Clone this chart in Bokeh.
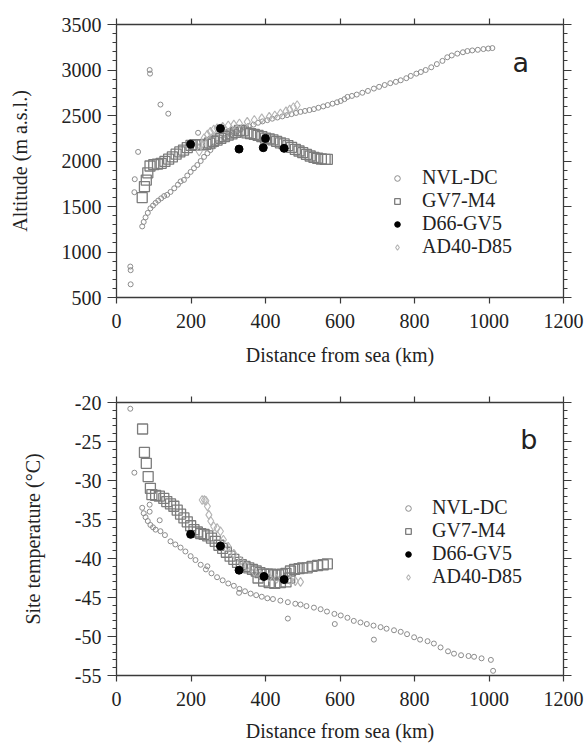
from bokeh.plotting import figure
from bokeh.models import (Range1d, LinearAxis, FixedTicker, SingleIntervalTicker,
                          Legend, LegendItem, Label, CustomJSTickFormatter)
from bokeh.layouts import column
from bokeh.embed import file_html
from bokeh.resources import INLINE

# ---------------- data: panel a (altitude) ----------------
nvl_a_d = [69, 73, 78, 84, 91, 98, 105, 112, 120, 128, 136, 145, 155, 165, 172, 181, 190, 199,
           208, 217, 226, 235, 244, 252, 261, 270, 280, 290, 297, 306, 315, 324, 333, 342, 355,
           368, 380, 392, 405, 418, 432, 445, 458, 470, 482, 494, 506, 518, 530, 542, 555, 567,
           580, 592, 602, 612, 620, 632, 645, 660, 675, 691, 705, 720, 735, 750, 763, 778, 790,
           805, 817, 830, 845, 860, 875, 888, 900, 915, 930, 942, 955, 970, 985, 998, 1009,
           37, 38, 38, 48, 49, 58, 89, 90, 118, 139, 219]
nvl_a_alt = [1281, 1330, 1380, 1430, 1480, 1510, 1540, 1565, 1590, 1615, 1628, 1660, 1700, 1740,
             1775, 1792, 1840, 1880, 1920, 1956, 2000, 2045, 2085, 2120, 2160, 2195, 2230, 2255,
             2266, 2290, 2305, 2325, 2345, 2370, 2385, 2400, 2420, 2435, 2449, 2465, 2478, 2490,
             2504, 2515, 2528, 2540, 2550, 2560, 2570, 2585, 2600, 2615, 2630, 2645, 2660, 2680,
             2704, 2715, 2730, 2750, 2770, 2796, 2815, 2835, 2855, 2870, 2887, 2910, 2935, 2960,
             2978, 3000, 3030, 3065, 3100, 3140, 3160, 3180, 3195, 3208, 3215, 3222, 3230, 3236,
             3241,
             840, 800, 645, 1657, 1800, 2100, 3000, 2960, 2620, 2520, 2310]

gv7_a_d = [69, 75, 80, 84, 90, 100, 110, 120, 130, 140, 150, 160, 170, 180, 190, 200, 210, 220,
           230, 240, 250, 260, 270, 280, 290, 300, 310, 320, 330, 340, 350, 360, 370, 380, 390,
           400, 410, 420, 430, 440, 450, 460, 470, 480, 490, 500, 510, 520, 530, 540, 550, 560, 566]
gv7_a_alt = [1598, 1719, 1790, 1870, 1945, 1960, 1965, 1975, 1995, 2020, 2045, 2075, 2100, 2120,
             2148, 2172, 2180, 2180, 2177, 2182, 2198, 2215, 2230, 2250, 2268, 2285, 2298, 2315,
             2335, 2330, 2310, 2300, 2292, 2282, 2268, 2252, 2243, 2233, 2215, 2200, 2188, 2170,
             2150, 2128, 2110, 2092, 2072, 2055, 2040, 2030, 2022, 2018, 2018]

d66_a_d = [199, 279, 329, 394, 400, 450]
d66_a_alt = [2183, 2358, 2131, 2146, 2248, 2139]

ad40_a_d = [222, 228, 235, 244, 252, 261, 270, 285, 300, 315, 330, 351, 370, 390, 410, 425, 440,
            455, 465, 475, 485]
ad40_a_alt = [2105, 2180, 2250, 2290, 2320, 2345, 2360, 2375, 2390, 2400, 2412, 2430, 2450, 2468,
              2485, 2500, 2522, 2545, 2565, 2590, 2613]

# ---------------- data: panel b (site temperature) ----------------
nvl_b_d = [69, 73, 78, 84, 91, 98, 105, 118, 130, 145, 158, 172, 185, 199, 212, 226, 240, 255,
           270, 285, 300, 315, 330, 345, 360, 375, 390, 405, 420, 440, 460, 480, 494, 510, 530,
           548, 565, 585, 602, 620, 637, 655, 672, 690, 709, 725, 745, 763, 780, 799, 815, 835,
           852, 870, 890, 906, 925, 945, 960, 980, 1005,
           37, 48, 89, 89, 116, 244, 329, 460, 586, 691, 1011]
nvl_b_t = [-33.5, -34.2, -34.7, -35.2, -35.7, -36.0, -36.3, -36.5, -37.0, -37.8, -38.2, -38.6,
           -39.1, -39.7, -40.2, -40.8, -41.4, -41.9, -42.4, -42.8, -43.2, -43.5, -43.9, -44.2,
           -44.5, -44.7, -44.9, -45.1, -45.2, -45.4, -45.6, -45.8, -45.9, -46.1, -46.3, -46.5,
           -46.8, -47.1, -47.3, -47.6, -48.0, -48.2, -48.4, -48.6, -48.8, -49.0, -49.2, -49.4,
           -49.7, -50.1, -50.4, -50.6, -50.9, -51.4, -51.9, -52.2, -52.4, -52.5, -52.6, -52.8,
           -53.0,
           -20.8, -29.0, -33.1, -34.0, -35.1, -41.0, -44.4, -47.7, -48.4, -50.4, -54.4]

gv7_b_d = [70, 75, 80, 85, 91, 95, 105, 115, 127, 135, 145, 154, 163, 172, 181, 190, 199, 208,
           217, 226, 235, 245, 255, 265, 275, 285, 295, 305, 315, 325, 335, 345, 355, 365, 375,
           385, 395, 405, 415, 425, 435, 445, 455, 467, 478, 490, 500, 512, 525, 540, 555, 566,
           380, 395, 410, 425, 440, 455, 465]
gv7_b_t = [-23.4, -26.4, -27.8, -29.5, -31.0, -31.8, -31.9, -32.0, -32.3, -32.7, -33.0, -33.3,
           -33.8, -34.3, -34.8, -35.3, -35.8, -36.3, -36.6, -36.8, -36.9, -37.1, -37.4, -37.8,
           -38.3, -38.7, -39.2, -39.7, -40.1, -40.5, -40.8, -41.0, -41.2, -41.4, -41.6, -41.8,
           -42.0, -42.0, -42.0, -42.1, -42.1, -42.0, -41.9, -41.6, -41.4, -41.3, -41.2, -41.2,
           -41.0, -40.9, -40.8, -40.7,
           -42.5, -42.9, -43.1, -43.2, -43.1, -43.0, -42.5]

d66_b_d = [199, 279, 329, 396, 450]
d66_b_t = [-36.9, -38.4, -41.5, -42.3, -42.7]

ad40_b_d = [230, 236, 240, 244, 248, 253, 261, 270, 279, 287, 300, 315, 333, 350, 370, 390, 410,
            430, 450, 467, 480, 494]
ad40_b_t = [-32.5, -32.5, -32.6, -33.3, -34.4, -35.2, -35.9, -36.1, -36.5, -37.6, -38.5, -39.4,
            -40.3, -41.0, -41.7, -42.2, -42.4, -42.6, -42.7, -42.8, -42.9, -43.0]

x_ticks = [0, 200, 400, 600, 800, 1000, 1200]
series_names = ["NVL-DC", "GV7-M4", "D66-GV5", "AD40-D85"]

SERIF = "Liberation Serif"
AX = "#3a3a3a"


def style_axis(ax, show_labels=True, tick_out=9, minor_out=4):
    ax.axis_line_color = AX
    ax.axis_line_width = 1.3
    ax.major_tick_line_color = AX
    ax.minor_tick_line_color = AX
    ax.major_tick_line_width = 1.2
    ax.major_tick_in = 0
    ax.major_tick_out = tick_out
    ax.minor_tick_in = 0
    ax.minor_tick_out = minor_out
    ax.major_label_text_font = SERIF
    ax.major_label_text_color = "#222222"
    ax.axis_label_text_font = SERIF
    ax.axis_label_text_font_style = "normal"
    ax.axis_label_text_color = "#222222"
    ax.major_label_text_font_size = "20px"
    ax.axis_label_text_font_size = "20px"
    if show_labels:
        ax.formatter = CustomJSTickFormatter(code="return String(tick);")
    else:
        ax.formatter = CustomJSTickFormatter(code="return '';")
        ax.major_label_standoff = 0


def make_panel(height, top, bottom, ylo, yhi, yint, ylabel, data, legend_loc, letter, letter_xy,
               xlabel_standoff, legend_standoff):
    p = figure(width=585, height=height, output_backend="svg", toolbar_location=None,
               x_range=Range1d(0, 1200), y_range=Range1d(ylo, yhi),
               min_border_left=116, min_border_right=22, min_border_top=top,
               min_border_bottom=bottom, x_axis_location=None, y_axis_location=None)
    p.outline_line_color = None
    p.grid.visible = False
    p.background_fill_color = "white"
    p.border_fill_color = "white"

    xt = FixedTicker(ticks=x_ticks, minor_ticks=[])
    yt = SingleIntervalTicker(interval=yint, num_minor_ticks=5)

    xb = LinearAxis(ticker=xt, axis_label="Distance from sea (km)")
    style_axis(xb, True, tick_out=6, minor_out=0)
    xb.major_label_standoff = 10
    xb.axis_label_standoff = xlabel_standoff
    p.add_layout(xb, "below")
    xa = LinearAxis(ticker=xt)
    style_axis(xa, False, tick_out=6, minor_out=0)
    p.add_layout(xa, "above")

    yl = LinearAxis(ticker=yt, axis_label=ylabel)
    style_axis(yl, True, tick_out=9, minor_out=4)
    yl.major_label_standoff = 6
    yl.axis_label_standoff = 28
    p.add_layout(yl, "left")
    yr = LinearAxis(ticker=yt)
    style_axis(yr, False, tick_out=8, minor_out=4)
    p.add_layout(yr, "right")

    (nd, nv), (gd, gv), (dd, dv), (ad, av) = data
    r_nvl = p.scatter(nd, nv, marker="circle", size=5, fill_color=None,
                      line_color="#8c8c8c", line_width=1)
    r_gv7 = p.scatter(gd, gv, marker="square", size=10, fill_color=None,
                      line_color="#7c7c7c", line_width=1.3)
    r_ad = p.scatter(ad, av, marker="diamond", size=9, fill_color=None,
                     line_color="#b4b4b4", line_width=1.1)
    r_d66 = p.scatter(dd, dv, marker="circle", size=8, fill_color="black",
                      line_color="black")

    items = [LegendItem(label=series_names[0], renderers=[r_nvl]),
             LegendItem(label=series_names[1], renderers=[r_gv7]),
             LegendItem(label=series_names[2], renderers=[r_d66]),
             LegendItem(label=series_names[3], renderers=[r_ad])]
    leg = Legend(items=items, location=legend_loc, orientation="vertical",
                 glyph_width=14, glyph_height=14, label_height=20, spacing=0,
                 padding=0, margin=0, label_standoff=legend_standoff,
                 label_text_font=SERIF, label_text_font_size="20px",
                 label_text_color="#222222",
                 border_line_color=None, background_fill_alpha=0)
    p.add_layout(leg, "center")

    p.add_layout(Label(x=letter_xy[0], y=letter_xy[1], text=letter,
                       text_font="DejaVu Sans", text_font_size="27px",
                       text_color="#222222", text_align="center",
                       text_baseline="middle"))
    return p


pa = make_panel(368, 24, 70, 500, 3500, 500, "Altitude (m a.s.l.)",
                [(nvl_a_d, nvl_a_alt), (gv7_a_d, gv7_a_alt), (d66_a_d, d66_a_alt),
                 (ad40_a_d, ad40_a_alt)],
                (274, 39), "a", (1085, 3084), 13, 18)

pb = make_panel(376, 34, 67, -55, -20, 5, "Site temperature (°C)",
                [(nvl_b_d, nvl_b_t), (gv7_b_d, gv7_b_t), (d66_b_d, d66_b_t),
                 (ad40_b_d, ad40_b_t)],
                (285, 87), "b", (1107, -24.8), 11, 17)

layout = column(pa, pb, spacing=0)
open("out.html", "w").write(file_html(layout, INLINE))
